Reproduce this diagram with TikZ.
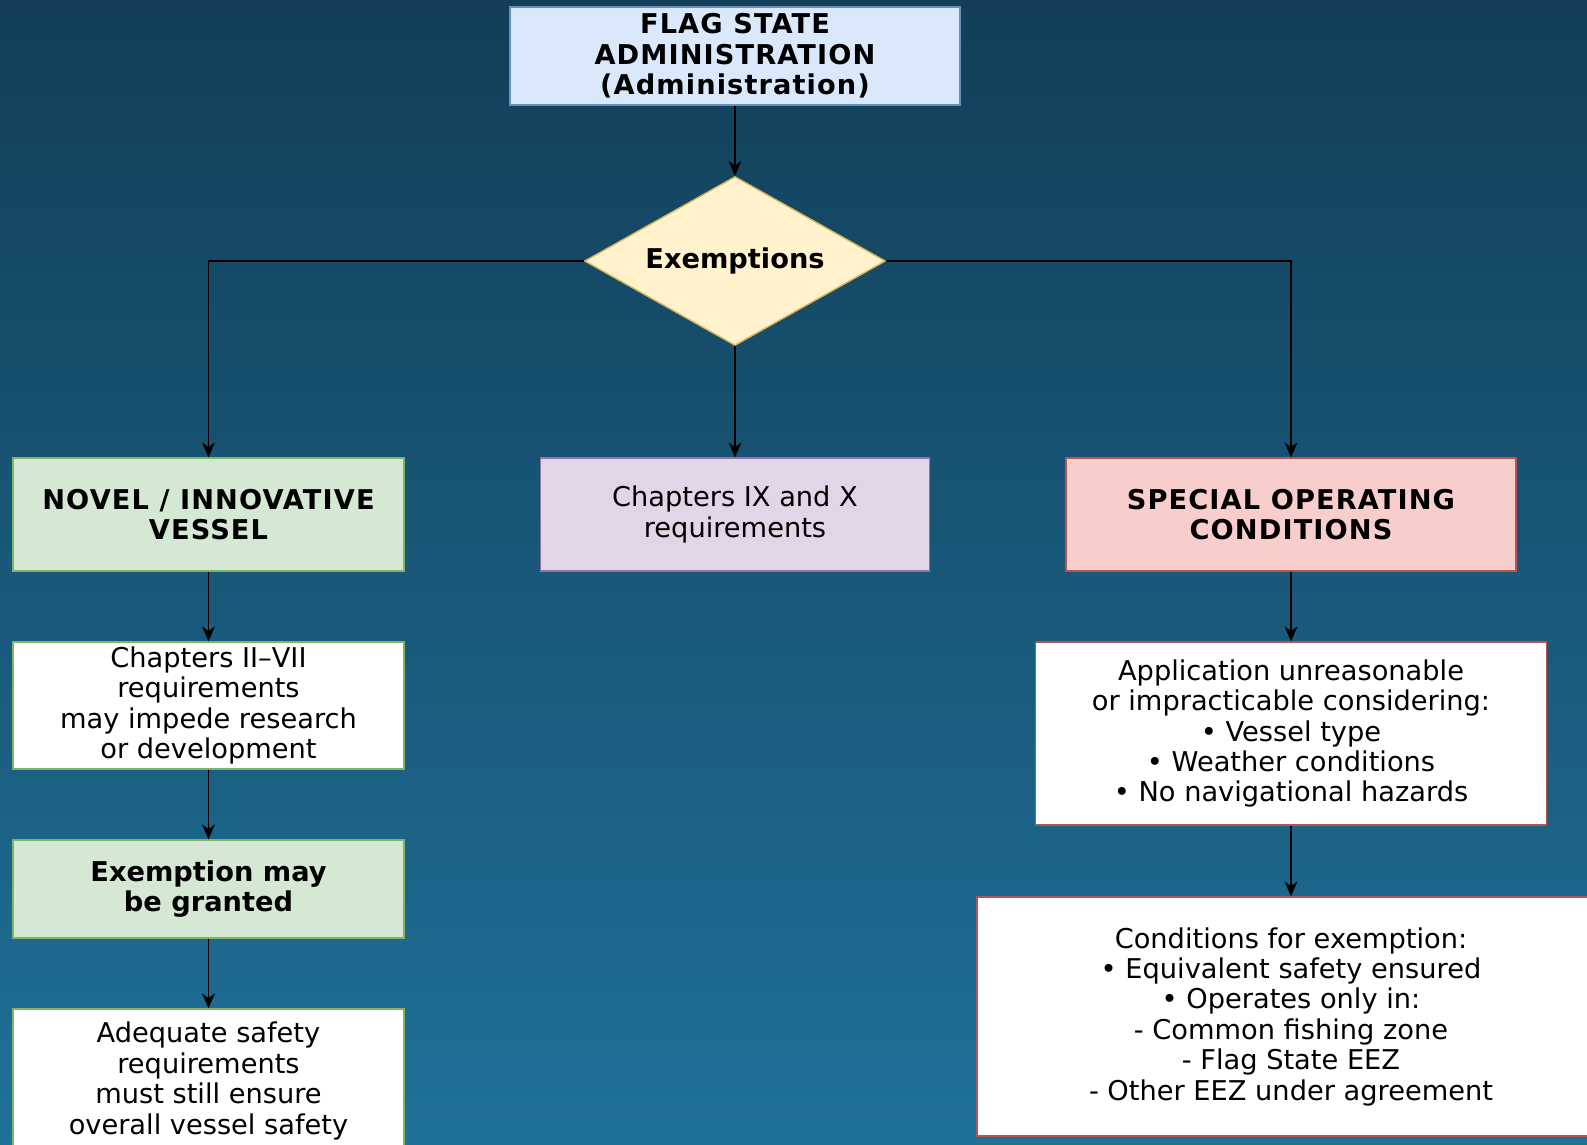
\documentclass[tikz,border=0pt]{standalone}
\usepackage{fontspec}
\setmainfont{DejaVu Sans}
\usetikzlibrary{arrows.meta,positioning,calc,shapes.geometric}

\definecolor{bgtop}{HTML}{123E58}
\definecolor{bgmid}{HTML}{174B6A}
\definecolor{bgbot}{HTML}{1F7199}
\definecolor{bluefill}{HTML}{DAE8FC}
\definecolor{blueline}{HTML}{6C8EBF}
\definecolor{yellowfill}{HTML}{FFF2CC}
\definecolor{yellowline}{HTML}{D6B656}
\definecolor{greenfill}{HTML}{D5E8D4}
\definecolor{greenline}{HTML}{82B366}
\definecolor{purplefill}{HTML}{E1D5E7}
\definecolor{purpleline}{HTML}{9673A6}
\definecolor{redfill}{HTML}{F8CECC}
\definecolor{redline}{HTML}{B85450}

\tikzset{
  box/.style={draw, line width=0.8pt, align=center, inner sep=0pt,
              font=\fontsize{15.5}{17.3}\selectfont},
  headbox/.style={box, font=\fontsize{15.5}{17.3}\selectfont\bfseries},
  capsbox/.style={box, font=\fontsize{15.5}{17.3}\selectfont\bfseries\addfontfeature{LetterSpace=4}},
  flow/.style={line width=0.75pt, -{Stealth[length=3mm, width=2.6mm]}}
}

\begin{document}
\begin{tikzpicture}
    % draw the background
    \useasboundingbox (0,0) rectangle (31.74,-22.88);
    \clip (0,0) rectangle (31.74,-22.88);
    \shade[top color=bgtop, middle color=bgmid, bottom color=bgbot] (0,0) rectangle (31.74,-22.88);

    % top of the chart
    \node[capsbox, fill=bluefill, draw=blueline, minimum width=9cm, minimum height=1.96cm]
        (admin) at (14.7,-1.12) {FLAG STATE\\ADMINISTRATION\\(Administration)};
    \node[headbox, diamond, aspect=1.78, fill=yellowfill, draw=yellowline, minimum width=6.02cm, minimum height=3.38cm]
        (exempt) at (14.7,-5.22) {Exemptions};

    % the three branches
    \node[capsbox, fill=greenfill, draw=greenline, minimum width=7.82cm, minimum height=2.26cm]
        (novel) at (4.17,-10.29) {NOVEL / INNOVATIVE\\VESSEL};
    \node[box, fill=purplefill, draw=purpleline, minimum width=7.78cm, minimum height=2.26cm]
        (chapters) at (14.7,-10.29) {Chapters IX and X\\requirements};
    \node[capsbox, fill=redfill, draw=redline, minimum width=9cm, minimum height=2.26cm]
        (special) at (25.82,-10.29) {SPECIAL OPERATING\\CONDITIONS};

    % left column
    \node[box, fill=white, draw=greenline, minimum width=7.82cm, minimum height=2.54cm]
        (impede) at (4.17,-14.11) {Chapters II–VII\\requirements\\may impede research\\or development};
    \node[headbox, fill=greenfill, draw=greenline, minimum width=7.82cm, minimum height=1.96cm]
        (granted) at (4.17,-17.78) {Exemption may\\be granted};
    \node[box, fill=white, draw=greenline, minimum width=7.82cm, minimum height=2.88cm]
        (adequate) at (4.17,-21.62) {Adequate safety\\requirements\\must still ensure\\overall vessel safety};

    % right column
    \node[box, fill=white, draw=redline, minimum width=10.22cm, minimum height=3.66cm]
        (unreasonable) at (25.82,-14.67) {Application unreasonable\\or impracticable considering:\\• Vessel type\\• Weather conditions\\• No navigational hazards};
    \node[box, fill=white, draw=redline, minimum width=12.56cm, minimum height=4.78cm]
        (conditions) at (25.82,-20.33) {Conditions for exemption:\\• Equivalent safety ensured\\• Operates only in:\\- Common fishing zone\\- Flag State EEZ\\- Other EEZ under agreement};

    % connectors
    \draw[flow] (admin) -- (exempt);
    \draw[flow] (exempt.west) -| (novel.north);
    \draw[flow] (exempt) -- (chapters);
    \draw[flow] (exempt.east) -| (special.north);
    \draw[flow] (novel) -- (impede);
    \draw[flow] (impede) -- (granted);
    \draw[flow] (granted) -- (adequate);
    \draw[flow] (special) -- (unreasonable);
    \draw[flow] (unreasonable) -- (conditions);
\end{tikzpicture}
\end{document}
